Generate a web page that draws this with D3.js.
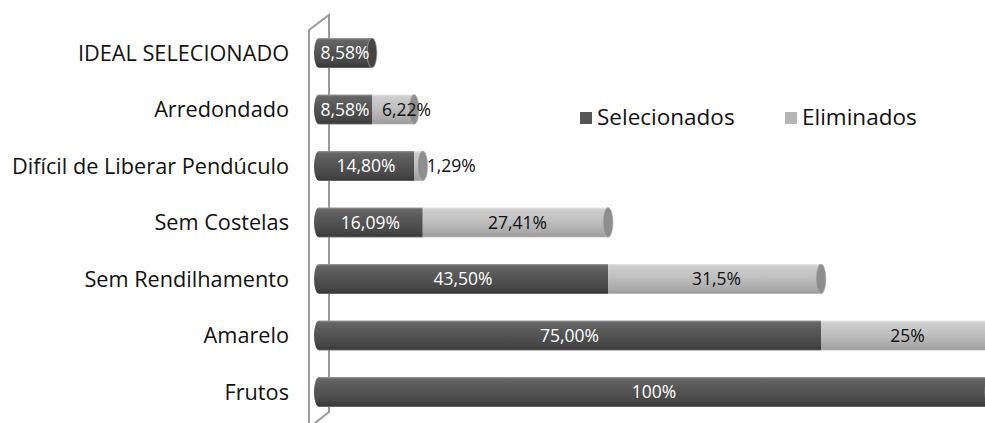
<!DOCTYPE html>
<html><head><meta charset="utf-8">
<script src="https://cdn.jsdelivr.net/npm/d3@7"></script>
<style>body{margin:0;background:#fff;overflow:hidden}svg{display:block}</style>
</head><body>
<script>
const categories = ["IDEAL SELECIONADO","Arredondado","Difícil de Liberar Pendúculo","Sem Costelas","Sem Rendilhamento","Amarelo","Frutos"];
const selecionados = [8.58, 8.58, 14.80, 16.09, 43.50, 75.00, 100];
const eliminados = [0, 6.22, 1.29, 27.41, 31.5, 25, 0];
const selLabels = ["8,58%","8,58%","14,80%","16,09%","43,50%","75,00%","100%"];
const elimLabels = ["","6,22%","1,29%","27,41%","31,5%","25%",""];
const seriesNames = ["Selecionados","Eliminados"];

const W = 985, H = 423;
const svg = d3.select("body").append("svg").attr("width", W).attr("height", H);
const font = "'Open Sans', sans-serif";

const x = d3.scaleLinear().domain([0, 100]).range([314, 990]);
const y = d3.scalePoint().domain(categories).range([53, 392]);
const barH = 30, rx = 5;

const defs = svg.append("defs");
function grad(id, stops) {
  const g = defs.append("linearGradient").attr("id", id).attr("x1", 0).attr("y1", 0).attr("x2", 0).attr("y2", 1);
  stops.forEach(s => g.append("stop").attr("offset", s[0]).attr("stop-color", s[1]));
}
grad("gDark", [[0, "#9a9a9a"], [0.07, "#666"], [0.35, "#585858"], [0.8, "#474747"], [0.95, "#3a3a3a"], [1, "#777"]]);
grad("gLight", [[0, "#e6e6e6"], [0.08, "#cdcdcd"], [0.4, "#c2c2c2"], [0.85, "#a8a8a8"], [0.96, "#9c9c9c"], [1, "#cfcfcf"]]);

// 3D wall
const wall = svg.append("g").attr("stroke", "#9a9a9a").attr("stroke-width", 2).attr("fill", "none");
wall.append("path").attr("d", "M309,423 L309,30 L329,15 L329,412 L315,423");

const grp = svg.append("g");
categories.forEach((c, i) => {
  const cy = y(c), top = cy - barH / 2;
  const segs = [
    {v0: 0, v1: selecionados[i], fill: "url(#gDark)", cap: "#454545", label: selLabels[i], color: "#fff"},
    {v0: selecionados[i], v1: selecionados[i] + eliminados[i], fill: "url(#gLight)", cap: "#8e8e8e", label: elimLabels[i], color: "#111"}
  ].filter(s => s.v1 > s.v0);
  const g = grp.append("g");
  segs.forEach((s, k) => {
    const x0 = x(s.v0), x1 = x(s.v1);
    if (k === 0) {
      g.append("path").attr("fill", s.fill)
        .attr("d", `M${x0 + rx},${top} L${x1},${top} L${x1},${top + barH} L${x0 + rx},${top + barH} A${rx},${barH / 2} 0 0 1 ${x0 + rx},${top} Z`);
    } else {
      g.append("rect").attr("x", x0).attr("y", top).attr("width", x1 - x0).attr("height", barH).attr("fill", s.fill);
    }
  });
  const last = segs[segs.length - 1];
  g.append("ellipse").attr("cx", x(last.v1)).attr("cy", cy).attr("rx", rx).attr("ry", barH / 2)
    .attr("fill", last.cap).attr("stroke", "#bbb").attr("stroke-width", 0.6);
  segs.forEach((s, k) => {
    const x0 = x(s.v0), x1 = x(s.v1);
    const small = (x1 - x0) < 20;
    const t = g.append("text")
      .attr("y", cy)
      .attr("dy", "0.35em")
      .attr("fill", small ? "#111" : s.color)
      .attr("font-family", font).attr("font-size", 17.5)
      .text(s.label);
    const tw = t.node().getComputedTextLength();
    if (small) {
      t.attr("x", x1 + rx - 1).attr("text-anchor", "start");
    } else if (k > 0 && tw > (x1 - x0)) {
      t.attr("x", x0 + 10).attr("text-anchor", "start");
    } else {
      t.attr("x", (x0 + x1) / 2 + 2).attr("text-anchor", "middle");
    }
  });
});

// category labels
svg.append("g").selectAll("text").data(categories).join("text")
  .attr("x", 289).attr("y", d => y(d)).attr("dy", "0.35em")
  .attr("text-anchor", "end").attr("font-family", font).attr("font-size", 21.7).attr("fill", "#111")
  .text(d => d);

// legend
const legX = [580, 785], legColors = ["#555", "#b5b5b5"];
const leg = svg.append("g");
seriesNames.forEach((n, i) => {
  leg.append("rect").attr("x", legX[i]).attr("y", 112).attr("width", 12).attr("height", 12).attr("fill", legColors[i]);
  leg.append("text").attr("x", legX[i] + 17).attr("y", 117).attr("dy", "0.35em")
    .attr("font-family", font).attr("font-size", 22.5).attr("fill", "#111").text(n);
});
</script>
</body></html>
